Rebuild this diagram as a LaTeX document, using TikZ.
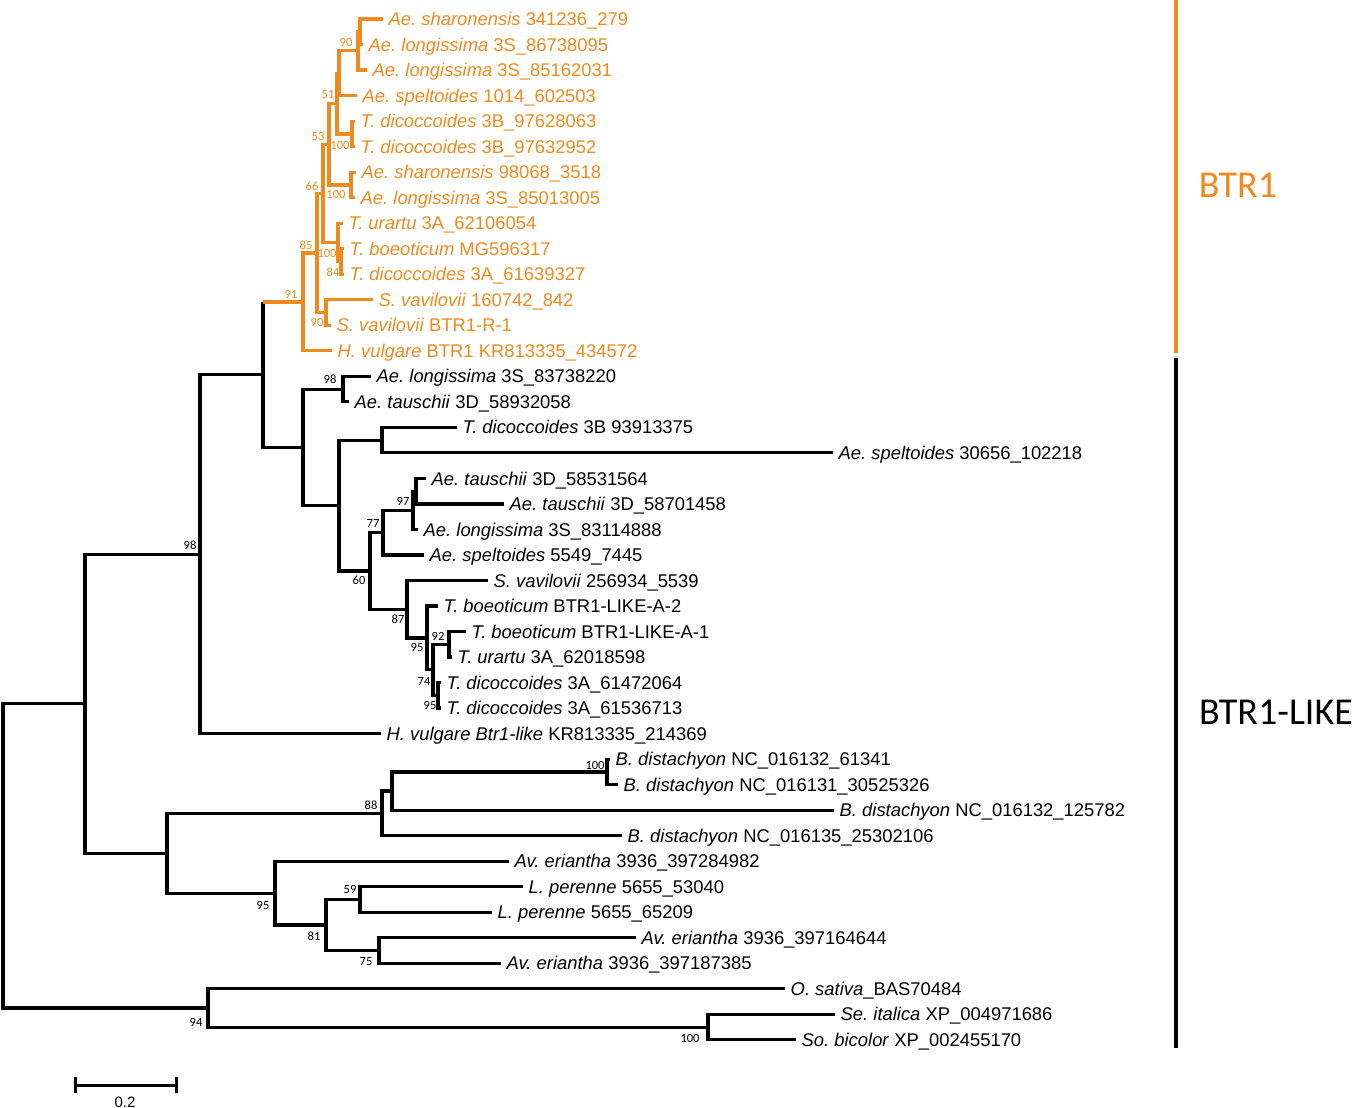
\documentclass[tikz,border=0pt]{standalone}
\usepackage{fontspec}
\setmainfont{Liberation Sans}
\newfontfamily\bsfont{Carlito}
\definecolor{btr}{RGB}{240,138,30}
\frenchspacing
\tikzset{
  br/.style={line width=3.2pt, line join=miter},
  obr/.style={br, draw=btr},
  lf/.style={anchor=west, inner xsep=5.5pt, inner ysep=0pt, text height=13.2pt, text depth=0pt, font=\fontsize{18.4}{20}\selectfont},
  olf/.style={lf, text=btr},
  bs/.style={font=\bsfont\fontsize{12.5}{13}\selectfont, inner sep=0pt},
  obs/.style={bs, text=btr},
  clab/.style={font=\bsfont\fontsize{38}{40}\selectfont, inner sep=0pt},
}
\begin{document}
\begin{tikzpicture}[x=1pt,y=-1pt]
\useasboundingbox (0,0) rectangle (1358,1108);
% ---- leaves (BTR1 clade, orange)
\node[olf] (L1) at (383,19.0) {\textit{Ae. sharonensis} 341236\_279};
\node[olf] (L2) at (363,44.5) {\textit{Ae. longissima} 3S\_86738095};
\node[olf] (L3) at (367,70.0) {\textit{Ae. longissima} 3S\_85162031};
\node[olf] (L4) at (357,95.6) {\textit{Ae. speltoides} 1014\_602503};
\node[olf] (L5) at (355,121.1) {\textit{T. dicoccoides} 3B\_97628063};
\node[olf] (L6) at (355,146.6) {\textit{T. dicoccoides} 3B\_97632952};
\node[olf] (L7) at (356,172.1) {\textit{Ae. sharonensis} 98068\_3518};
\node[olf] (L8) at (355,197.6) {\textit{Ae. longissima} 3S\_85013005};
\node[olf] (L9) at (343,223.2) {\textit{T. urartu} 3A\_62106054};
\node[olf] (L10) at (344,248.7) {\textit{T. boeoticum} MG596317};
\node[olf] (L11) at (344,274.2) {\textit{T. dicoccoides} 3A\_61639327};
\node[olf] (L12) at (373,299.7) {\textit{S. vavilovii} 160742\_842};
\node[olf] (L13) at (331,325.2) {\textit{S. vavilovii} BTR1-R-1};
\node[olf] (L14) at (332,350.8) {\textit{H. vulgare} BTR1 KR813335\_434572};
% ---- leaves (black)
\node[lf] (L15) at (371,376.3) {\textit{Ae. longissima} 3S\_83738220};
\node[lf] (L16) at (349,401.8) {\textit{Ae. tauschii} 3D\_58932058};
\node[lf] (L17) at (457,427.3) {\textit{T. dicoccoides} 3B 93913375};
\node[lf] (L18) at (833,452.8) {\textit{Ae. speltoides} 30656\_102218};
\node[lf] (L19) at (426,478.4) {\textit{Ae. tauschii} 3D\_58531564};
\node[lf] (L20) at (504,503.9) {\textit{Ae. tauschii} 3D\_58701458};
\node[lf] (L21) at (418,529.4) {\textit{Ae. longissima} 3S\_83114888};
\node[lf] (L22) at (424,554.9) {\textit{Ae. speltoides} 5549\_7445};
\node[lf] (L23) at (488,580.4) {\textit{S. vavilovii} 256934\_5539};
\node[lf] (L24) at (438,606.0) {\textit{T. boeoticum} BTR1-LIKE-A-2};
\node[lf] (L25) at (466,631.5) {\textit{T. boeoticum} BTR1-LIKE-A-1};
\node[lf] (L26) at (452,657.0) {\textit{T. urartu} 3A\_62018598};
\node[lf] (L27) at (441,682.5) {\textit{T. dicoccoides} 3A\_61472064};
\node[lf] (L28) at (441,708.0) {\textit{T. dicoccoides} 3A\_61536713};
\node[lf] (L29) at (381,733.6) {\textit{H. vulgare Btr1-like} KR813335\_214369};
\node[lf] (L30) at (610,759.1) {\textit{B. distachyon} NC\_016132\_61341};
\node[lf] (L31) at (618,784.6) {\textit{B. distachyon} NC\_016131\_30525326};
\node[lf] (L32) at (834,810.1) {\textit{B. distachyon} NC\_016132\_125782};
\node[lf] (L33) at (622,835.6) {\textit{B. distachyon} NC\_016135\_25302106};
\node[lf] (L34) at (509,861.2) {\textit{Av. eriantha} 3936\_397284982};
\node[lf] (L35) at (523,886.7) {\textit{L. perenne} 5655\_53040};
\node[lf] (L36) at (492,912.2) {\textit{L. perenne} 5655\_65209};
\node[lf] (L37) at (636,937.7) {\textit{Av. eriantha} 3936\_397164644};
\node[lf] (L38) at (501,963.2) {\textit{Av. eriantha} 3936\_397187385};
\node[lf] (L39) at (785,988.8) {\textit{O. sativa}\_BAS70484};
\node[lf] (L40) at (835,1014.3) {\textit{Se. italica} XP\_004971686};
\node[lf] (L41) at (796,1039.8) {\textit{So. bicolor} XP\_002455170};
% ---- internal nodes
\coordinate (root) at (3,855.8);
\coordinate (nM) at (85,703.7);
\coordinate (nW) at (200,554.1);
\coordinate (nZ) at (263,374.6);
\coordinate (n91) at (303,301.9);
\coordinate (n85) at (317,252.9);
\coordinate (n66) at (323,193.3);
\coordinate (n53) at (329,144.2);
\coordinate (n51) at (337,103.5);
\coordinate (n51i) at (339,73.2);
\coordinate (n90) at (358,50.9);
\coordinate (n90i) at (360,31.75);
\coordinate (n100a) at (352,133.9);
\coordinate (n100b) at (351,184.9);
\coordinate (n100c) at (338,242.3);
\coordinate (n84) at (341,261.5);
\coordinate (n90b) at (326,312.5);
\coordinate (nY) at (303,447.3);
\coordinate (nA98) at (343,389.1);
\coordinate (nX) at (339,505.5);
\coordinate (nT) at (382,440.1);
\coordinate (n60) at (370,570.9);
\coordinate (n77) at (383,532.6);
\coordinate (n97) at (413,510.3);
\coordinate (n97i) at (416,491.2);
\coordinate (n87) at (407,609.2);
\coordinate (n95a) at (427,637.9);
\coordinate (n74) at (433,669.8);
\coordinate (n92) at (449,644.3);
\coordinate (n95b) at (438,695.3);
\coordinate (nC) at (167,853.2);
\coordinate (n88) at (382,813.3);
\coordinate (nB) at (392,791);
\coordinate (n100d) at (607,771.9);
\coordinate (n95c) at (275,893.1);
\coordinate (n81) at (326,925);
\coordinate (n59) at (360,899.5);
\coordinate (n75) at (379,950.5);
\coordinate (n94) at (208,1007.9);
\coordinate (n100e) at (708,1027.1);
% ---- black branches
\foreach \p/\c in {root/nM, root/n94, nM/nW, nM/nC, nW/nZ, nW/L29.west, nZ/nY,
  nY/nA98, nY/nX, nA98/L15.west, nA98/L16.west, nX/nT, nX/n60, nT/L17.west, nT/L18.west,
  n60/n77, n60/n87, n77/n97, n77/L22.west, n97/n97i, n97/L21.west, n97i/L19.west, n97i/L20.west,
  n87/L23.west, n87/n95a, n95a/L24.west, n95a/n74, n74/n92, n74/n95b, n92/L25.west, n92/L26.west,
  n95b/L27.west, n95b/L28.west,
  nC/n88, nC/n95c, n88/nB, n88/L33.west, nB/n100d, nB/L32.west, n100d/L30.west, n100d/L31.west,
  n95c/L34.west, n95c/n81, n81/n59, n81/n75, n59/L35.west, n59/L36.west, n75/L37.west, n75/L38.west,
  n94/L39.west, n94/n100e, n100e/L40.west, n100e/L41.west}
  \draw[br] (\p) |- (\c);
\draw[br] (nZ) -- (nZ |- n91);
% ---- orange branches
\draw[obr] (nZ |- n91) -- (n91);
\foreach \p/\c in {n91/n85, n91/L14.west, n85/n66, n85/n90b, n90b/L12.west, n90b/L13.west,
  n66/n53, n66/n100c, n100c/L9.west, n100c/n84, n84/L10.west, n84/L11.west,
  n53/n51, n53/n100b, n100b/L7.west, n100b/L8.west, n51/n51i, n51/n100a,
  n100a/L5.west, n100a/L6.west, n51i/n90, n51i/L4.west, n90/n90i, n90/L3.west,
  n90i/L1.west, n90i/L2.west}
  \draw[obr] (\p) |- (\c);
% ---- bootstrap values
\node[obs] (b1) at (346,42) {90};
\node[obs] (b2) at (328,95) {51};
\node[obs] (b3) at (318,136) {53};
\node[obs] (b4) at (340,145) {100};
\node[obs] (b5) at (312,186) {66};
\node[obs] (b6) at (336,194) {100};
\node[obs] (b7) at (306,245) {85};
\node[obs] (b8) at (327,253) {100};
\node[obs] (b9) at (333,272) {84};
\node[obs] (b10) at (291,294) {91};
\node[obs] (b11) at (317,322) {90};
\node[bs] (b12) at (330,379) {98};
\node[bs] (b13) at (403,501) {97};
\node[bs] (b14) at (373,523) {77};
\node[bs] (b15) at (359,580) {60};
\node[bs] (b16) at (398,619) {87};
\node[bs] (b17) at (438,636) {92};
\node[bs] (b18) at (417,647) {95};
\node[bs] (b19) at (424,681) {74};
\node[bs] (b20) at (430,705) {95};
\node[bs] (b21) at (190,545) {98};
\node[bs] (b22) at (595,765) {100};
\node[bs] (b23) at (371,805) {88};
\node[bs] (b24) at (350,889) {59};
\node[bs] (b25) at (263,905) {95};
\node[bs] (b26) at (314,936) {81};
\node[bs] (b27) at (366,962) {75};
\node[bs] (b28) at (196,1022) {94};
\node[bs] (b29) at (690,1038) {100};
% ---- clade bars
\coordinate (c1t) at (1176,0);
\coordinate (c1b) at (1176,353);
\coordinate (c2t) at (1176,358);
\coordinate (c2b) at (1176,1048);
\draw[btr, line width=4pt] (c1t) -- (c1b);
\draw[black, line width=4pt] (c2t) -- (c2b);
\node[clab, text=btr] (k1) at (1238,185) {BTR1};
\node[clab] (k2) at (1276,712) {BTR1-LIKE};
% ---- scale bar
\coordinate (s0) at (75,1085);
\coordinate (s1) at (176,1085);
\draw[line width=3pt] (s0) -- (s1);
\draw[line width=3pt] ([yshift=-8pt]s0) -- ([yshift=8pt]s0);
\draw[line width=3pt] ([yshift=-8pt]s1) -- ([yshift=8pt]s1);
\node[font=\fontsize{15}{16}\selectfont, inner sep=0pt] (sl) at (125,1102) {0.2};
\end{tikzpicture}
\end{document}
